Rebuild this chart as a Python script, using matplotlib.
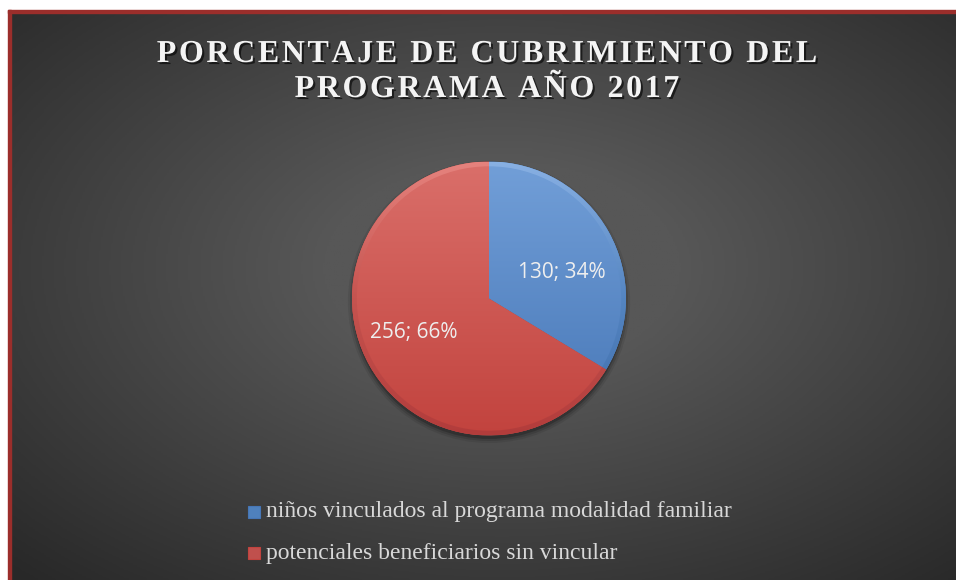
import numpy as np
import matplotlib
matplotlib.use("Agg")
import matplotlib.pyplot as plt
import matplotlib.patheffects as pe
from matplotlib.patches import Rectangle, Circle, Wedge
from matplotlib.font_manager import FontProperties, findfont, get_font

title_lines = ["PORCENTAJE DE CUBRIMIENTO DEL", "PROGRAMA AÑO 2017"]
labels = ["niños vinculados al programa modalidad familiar",
          "potenciales beneficiarios sin vincular"]
values = [130, 256]
colors = ["#4f81bd", "#c0504d"]
light = ["#729fd8", "#da6f6a"]
dark = ["#4676b6", "#c2433e"]
rim_light = ["#9cc0ee", "#f0948f"]
rim_dark = ["#3a67a2", "#a6383a"]

W, H = 956, 580
fig = plt.figure(figsize=(W / 100, H / 100), dpi=100)
fig.patch.set_facecolor("white")

# background with radial gradient
bg = fig.add_axes([10 / W, 0, 1 - 10 / W, 1 - 12 / H])
yy, xx = np.mgrid[0:1:300j, 0:1:500j]
d = np.sqrt(((xx - 0.52) / 0.75) ** 2 + ((yy - 0.55) / 0.75) ** 2)
grad = np.clip(1 - d, 0, 1)
bg.imshow(grad, cmap=matplotlib.colors.LinearSegmentedColormap.from_list(
    "bg", ["#282828", "#575757"]), extent=[0, 1, 0, 1], aspect="auto",
    origin="lower", vmin=0, vmax=0.75)
bg.set_axis_off()

# red border lines
fig.patches.append(Rectangle((8 / W, 0), 2.5 / W, 1 - 10 / H, transform=fig.transFigure,
                             color="#9b2e2b", zorder=5))
fig.patches.append(Rectangle((8 / W, 1 - 12.5 / H), 1, 2.5 / H, transform=fig.transFigure,
                             color="#9b2e2b", zorder=5))

# title, letter spaced
tsize = 23
tracking = 2.6
font = get_font(findfont(FontProperties(family="Liberation Serif", weight="bold")))
font.set_size(tsize, 100)
shadow = [pe.withSimplePatchShadow(offset=(1.5, -1.5), shadow_rgbFace="black", alpha=0.6)]
for k, line in enumerate(title_lines):
    adv = []
    for ch in line:
        g = font.load_char(ord(ch))
        adv.append(g.linearHoriAdvance / 65536)
    total_w = sum(adv) + tracking * (len(line) - 1)
    x = 487 - total_w / 2
    yc = 51 + k * 35
    for ch, a in zip(line, adv):
        if ch != " ":
            fig.text(x / W, (H - yc) / H, ch, ha="left", va="center_baseline",
                     color="#f4f4f4", fontsize=tsize, fontweight="bold",
                     family="Liberation Serif", path_effects=shadow)
        x += a + tracking

# pie
cx, cy, r = 489, 298.5, 137
ax = fig.add_axes([(cx - r) / W, (H - cy - r) / H, 2 * r / W, 2 * r / H])
total = sum(values)

# soft shadow below the pie
for s, a in [(1.03, 0.08), (1.015, 0.12), (1.0, 0.2)]:
    ax.add_patch(Circle((0.0, -0.025), s, color="black", alpha=a, lw=0, clip_on=False, zorder=0.5))

wedges, texts, autotexts = ax.pie(
    values, colors=colors, startangle=90, counterclock=False, radius=1,
    autopct=lambda p: f"{round(p * total / 100)}; {p:.0f}%", pctdistance=0.6,
    wedgeprops=dict(edgecolor="none"),
    textprops=dict(color="#eeeeee", fontsize=15, family="Open Sans"))

gv = np.linspace(0, 1, 256).reshape(-1, 1)
for i, w in enumerate(wedges):
    w.set_zorder(1)
    cm = matplotlib.colors.LinearSegmentedColormap.from_list("w%d" % i, [dark[i], light[i]])
    im = ax.imshow(gv, cmap=cm, extent=[-1, 1, -1, 1], origin="lower", aspect="auto", zorder=1.5)
    im.set_clip_path(w)
    # bevel rim along the outer arc
    ring = Wedge((0, 0), 1.0, w.theta1, w.theta2, width=0.035, facecolor="none", edgecolor="none")
    ax.add_patch(ring)
    cm2 = matplotlib.colors.LinearSegmentedColormap.from_list("r%d" % i, [rim_dark[i], colors[i], rim_light[i]])
    im2 = ax.imshow(gv, cmap=cm2, extent=[-1, 1, -1, 1], origin="lower", aspect="auto",
                    zorder=1.6, alpha=0.55)
    im2.set_clip_path(ring)

# label placement like the reference
autotexts[0].set_position((0.53, 0.19))
autotexts[1].set_position((-0.55, -0.25))
for t in autotexts:
    t.set_zorder(3)
ax.set_xlim(-1, 1)
ax.set_ylim(-1, 1)
ax.set_axis_off()

# legend
for i, lab in enumerate(labels):
    y = 512 + i * 41
    fig.patches.append(Rectangle(((254 - 6) / W, (H - y - 6) / H), 12 / W, 12 / H,
                                 transform=fig.transFigure, facecolor=colors[i],
                                 edgecolor=dark[i], lw=0.8, zorder=6))
    fig.text(266 / W, (H - y) / H, lab, ha="left", va="center", color="#d8d8d8",
             fontsize=17, family="Liberation Serif")

fig.savefig("out.png", dpi=100)
